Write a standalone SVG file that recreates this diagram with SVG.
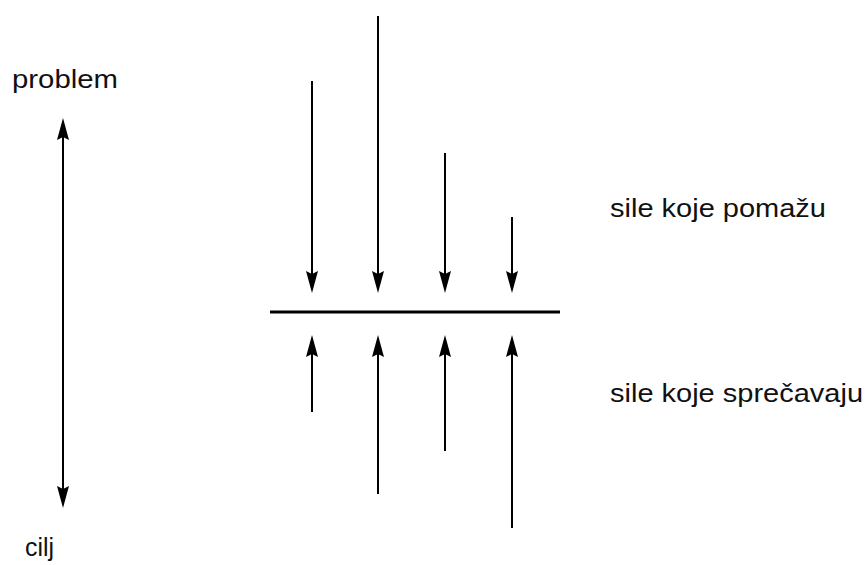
<svg xmlns="http://www.w3.org/2000/svg" width="867" height="565" viewBox="0 0 867 565">
<style>
.ln{stroke:#000;stroke-width:2;fill:none}
.t{font-family:"Liberation Sans",Arial,sans-serif;font-size:26px;fill:#111}
</style>
<defs>
<marker id="ah" markerUnits="userSpaceOnUse" markerWidth="24" markerHeight="14" refX="7" refY="7" orient="auto-start-reverse" viewBox="0 0 24 14">
<path d="M0,1 L22,7 L0,13 L3,7 z" fill="#000"/>
</marker>
</defs>
<rect width="867" height="565" fill="#fff"/>
<g id="label-problem"><text class="t" x="12" y="88" textLength="106" lengthAdjust="spacingAndGlyphs">problem</text></g>
<g id="label-cilj"><text class="t" x="25" y="556" textLength="29" lengthAdjust="spacingAndGlyphs">cilj</text></g>
<g id="label-pomazu"><text class="t" x="610" y="217" textLength="216" lengthAdjust="spacingAndGlyphs">sile koje pomažu</text></g>
<g id="label-sprecavaju"><text class="t" x="610" y="402" textLength="253" lengthAdjust="spacingAndGlyphs">sile koje sprečavaju</text></g>
<g id="baseline"><line x1="270" y1="312" x2="560" y2="312" stroke="#000" stroke-width="3"/></g>
<g id="connectors">
<line class="ln" x1="63" y1="133" x2="63" y2="493" marker-start="url(#ah)" marker-end="url(#ah)"/>
<line class="ln" x1="312" y1="81" x2="312" y2="278" marker-end="url(#ah)"/>
<line class="ln" x1="378" y1="16" x2="378" y2="278" marker-end="url(#ah)"/>
<line class="ln" x1="445" y1="153" x2="445" y2="278" marker-end="url(#ah)"/>
<line class="ln" x1="512" y1="217" x2="512" y2="278" marker-end="url(#ah)"/>
<line class="ln" x1="312" y1="412" x2="312" y2="350" marker-end="url(#ah)"/>
<line class="ln" x1="378" y1="494" x2="378" y2="350" marker-end="url(#ah)"/>
<line class="ln" x1="445" y1="451" x2="445" y2="350" marker-end="url(#ah)"/>
<line class="ln" x1="512" y1="528" x2="512" y2="350" marker-end="url(#ah)"/>
</g>
</svg>
